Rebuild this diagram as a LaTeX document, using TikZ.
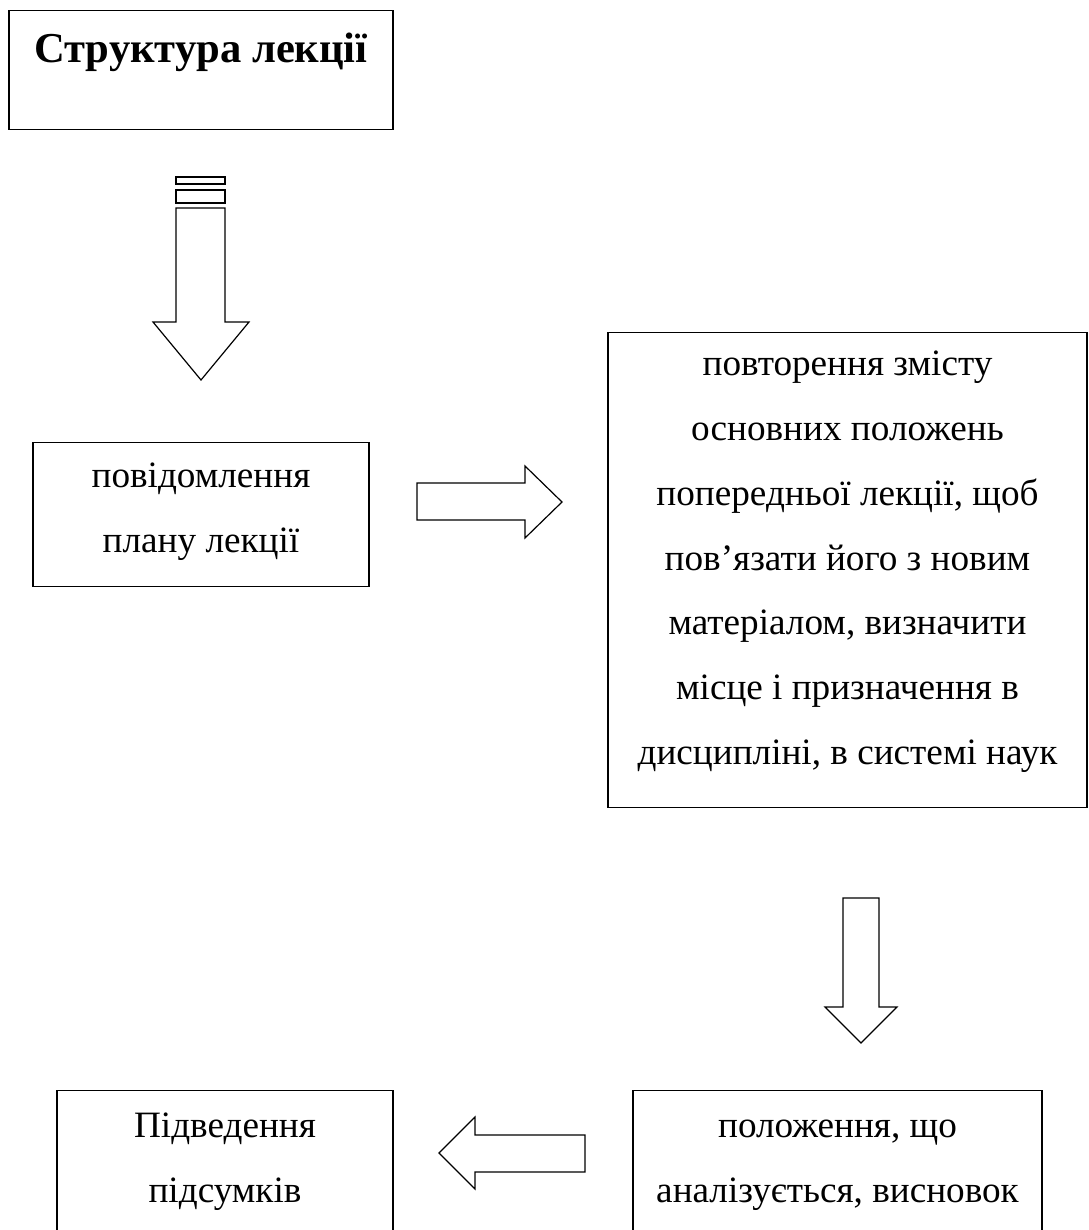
\documentclass[tikz,border=0pt]{standalone}
\usepackage{fontspec}
\setmainfont{Liberation Serif}
\usepackage{tikz}
\usetikzlibrary{positioning,calc}

\begin{document}
\begin{tikzpicture}[
  x=0.5pt, y=-0.5pt,
  box/.style={draw, line width=0.6pt, align=flush center, inner sep=0pt, anchor=north,
              font=\fontsize{18.6}{32.4}\selectfont},
  blk/.style={draw, line width=0.6pt, line join=miter}
]
  \useasboundingbox (0,0) rectangle (1088,1230);
  \clip (0,0) rectangle (1088,1230);
  \node[box, text width=192pt, text height=26pt, text depth=33.5pt,
        font=\fontsize{21.3}{25}\selectfont\bfseries] (title) at (201,10) {Структура лекції};
  \node[box, text width=168pt, text height=22.5pt, text depth=49.5pt] (plan) at (201,442)
    {повідомлення\\плану лекції};
  \node[box, text width=239.5pt, text height=21.5pt, text depth=216pt] (review) at (847.5,332)
    {повторення змісту\\основних положень\\попередньої лекції, щоб\\пов’язати його з новим\\матеріалом, визначити\\місце і призначення в\\дисципліні, в системі наук};
  \node[box, text width=204.5pt, text height=23.5pt, text depth=51.5pt] (thesis) at (837.5,1090)
    {положення, що\\аналізується, висновок};
  \node[box, text width=168pt, text height=23.5pt, text depth=51.5pt] (summary) at (225,1090)
    {Підведення\\підсумків};
  \draw[blk] (176,177) rectangle (225,184);
  \draw[blk] (176,190) rectangle (225,203);
  \draw[blk] (176,208) -- (176,322) -- (153,322) -- (201,380) -- (249,322) -- (225,322) -- (225,208) -- cycle;
  \draw[blk] (417,483) -- (525,483) -- (525,466) -- (562,502) -- (525,538) -- (525,520) -- (417,520) -- cycle;
  \draw[blk] (843,898) -- (843,1007) -- (825,1007) -- (861,1043) -- (897,1007) -- (879,1007) -- (879,898) -- cycle;
  \draw[blk] (585,1135) -- (475,1135) -- (475,1117) -- (439,1153) -- (475,1189) -- (475,1172) -- (585,1172) -- cycle;
\end{tikzpicture}
\end{document}
